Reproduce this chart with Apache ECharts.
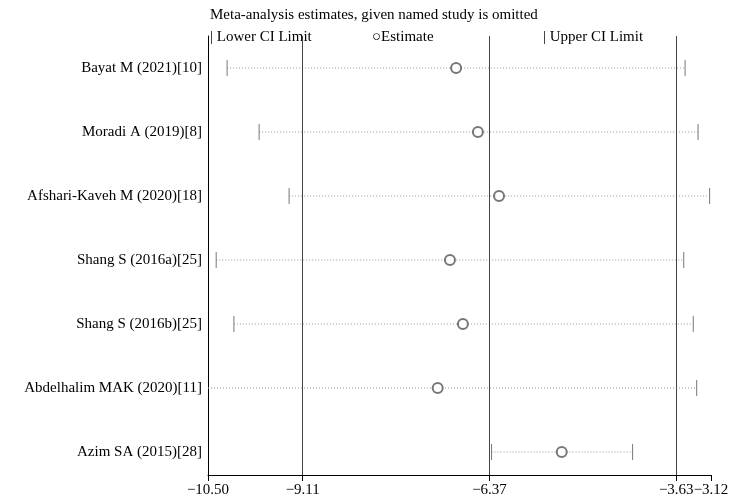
<!DOCTYPE html><html><head><meta charset="utf-8"><script src="https://cdn.jsdelivr.net/npm/echarts@6/dist/echarts.min.js"></script></head><body style="margin:0;background:#fff"><div id="c" style="width:744px;height:502px"></div><script>
const studies=["Bayat M (2021)[10]","Moradi A (2019)[8]","Afshari-Kaveh M (2020)[18]","Shang S (2016a)[25]","Shang S (2016b)[25]","Abdelhalim MAK (2020)[11]","Azim SA (2015)[28]"];
const lower=[-10.22,-9.75,-9.31,-10.38,-10.12,-10.93,-6.34];
const estimate=[-6.86,-6.54,-6.23,-6.95,-6.76,-7.13,-5.31];
const upper=[-3.50,-3.31,-3.14,-3.52,-3.38,-3.33,-4.27];
const tickValues=[-10.50,-9.11,-6.37,-3.63,-3.12];
const refLines=[-9.11,-6.37,-3.63];
const F='"Liberation Serif","DejaVu Serif",serif';
const ch=echarts.init(document.getElementById('c'));
const ci=studies.map((s,i)=>[lower[i],upper[i],i+1]);
ch.setOption({animation:false,
grid:{left:208,right:33,top:36,height:439},
xAxis:{type:'value',min:-10.5,max:-3.12,axisLine:{lineStyle:{color:'#000'}},splitLine:{show:false},
 axisTick:{length:6,customValues:tickValues,lineStyle:{color:'#000'}},
 axisLabel:{customValues:tickValues,formatter:v=>(v<0?'\u2212':'')+Math.abs(v).toFixed(2),color:'#000',fontFamily:F,fontSize:15}},
yAxis:{type:'value',inverse:true,min:0.5,max:7.36,interval:1,axisLine:{show:true,lineStyle:{color:'#000'}},axisTick:{show:false},splitLine:{show:false},
 axisLabel:{customValues:[1,2,3,4,5,6,7],formatter:v=>studies[v-1]||'',color:'#000',fontFamily:F,fontSize:15,margin:6}},
graphic:[
 {type:'text',left:210,top:8,style:{text:'Meta-analysis estimates, given named study is omitted',font:'15px '+F,fill:'#000'}},
 {type:'text',left:210,top:30,style:{text:'| Lower CI Limit',font:'15px '+F,fill:'#000'}},
 {type:'text',left:372,top:30,style:{text:'\u25CBEstimate',font:'15px '+F,fill:'#000'}},
 {type:'text',left:543,top:30,style:{text:'| Upper CI Limit',font:'15px '+F,fill:'#000'}}],
series:[
 {type:'custom',data:ci,clip:true,renderItem:(p,api)=>{
  const a=api.coord([api.value(0),api.value(2)]),b=api.coord([api.value(1),api.value(2)]);
  const cs=p.coordSys,xl=Math.max(a[0],cs.x),st={stroke:'#777',lineWidth:1};
  const ch=[{type:'line',shape:{x1:xl,y1:a[1],x2:b[0],y2:b[1]},style:{stroke:'#999',lineWidth:1,lineDash:[1,2]}},
   {type:'line',shape:{x1:b[0],y1:b[1]-8,x2:b[0],y2:b[1]+8},style:st}];
  if(a[0]>=cs.x)ch.push({type:'line',shape:{x1:a[0],y1:a[1]-8,x2:a[0],y2:a[1]+8},style:st});
  return {type:'group',children:ch};},
  markLine:{silent:true,symbol:'none',label:{show:false},lineStyle:{color:'#444',type:'solid',width:1},data:refLines.map(v=>({xAxis:v}))}},
 {type:'scatter',data:studies.map((s,i)=>[estimate[i],i+1]),symbol:'emptyCircle',symbolSize:10,itemStyle:{color:'#555',borderWidth:1}}]});
</script></body></html>
